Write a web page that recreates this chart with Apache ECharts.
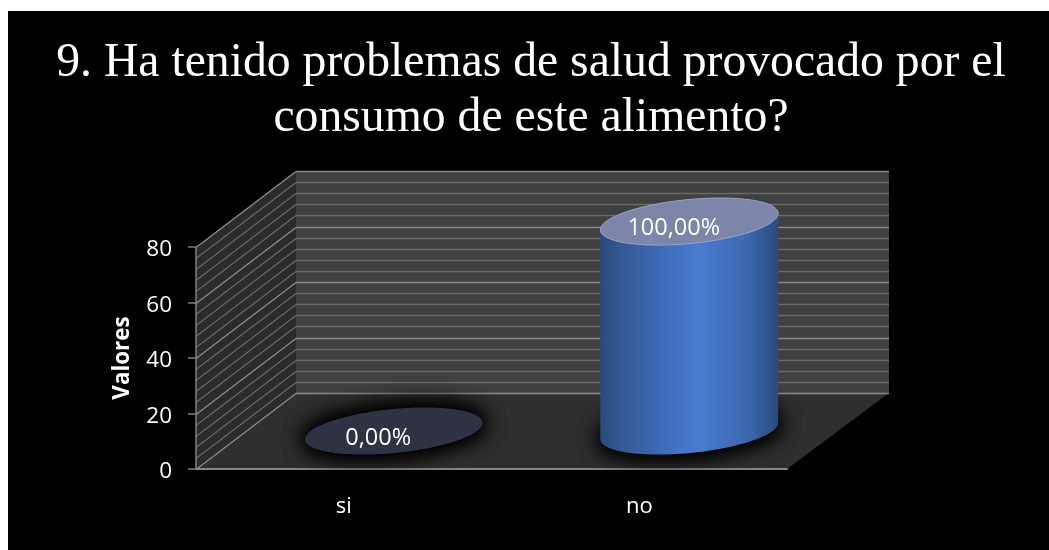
<!DOCTYPE html>
<html>
<head>
<meta charset="utf-8">
<style>html,body{margin:0;padding:0;background:#fff}#chart{width:1049px;height:550px}</style>
<script src="https://cdn.jsdelivr.net/npm/echarts@6/dist/echarts.min.js"></script>
</head>
<body>
<div id="chart"></div>
<script>
// Survey answers and how they are labelled
const categories = ['si', 'no'];
const percentValues = [0, 100];
const valueLabels = ['0,00%', '100,00%'];
const yTicks = [0, 20, 40, 60, 80];
const titleLines = ['9. Ha tenido problemas de salud provocado por el', 'consumo de este alimento?'];
const axisTitle = 'Valores';

// Oblique projection used for the pseudo-3D box
const DEPTH_X = 100;
const DEPTH_Y = -76;
const MINOR_STEP = 4;
const MAJOR_STEP = 20;
const AXIS_MAX = yTicks[yTicks.length - 1];
const PERCENT_AXIS_MAX = 106;
const LABEL_FONT = '"Open Sans", sans-serif';

const chart = echarts.init(document.getElementById('chart'), null, { renderer: 'canvas' });

// Projected circle: a conjugate pair of semi-axes, one along x and one along the depth direction
function ellipsePoints(cx, cy, halfX, depthScale) {
  const pts = [];
  for (let i = 0; i < 120; i++) {
    const t = (i / 120) * Math.PI * 2;
    pts.push([
      cx + halfX * Math.cos(t) + DEPTH_X * depthScale * Math.sin(t),
      cy + DEPTH_Y * depthScale * Math.sin(t)
    ]);
  }
  return pts;
}

function renderBox(params, api) {
  const bandWidth = api.size([1, 0])[0];
  const leftEdge = api.coord([0, 0])[0] - bandWidth / 2;
  const rightEdge = leftEdge + bandWidth * categories.length;
  const y0 = api.coord([0, 0])[1];
  const yTop = api.coord([0, AXIS_MAX])[1];
  const dx = DEPTH_X, dy = DEPTH_Y;
  const backRight = rightEdge + dx + 2;
  const children = [];

  // Side wall, back wall and floor
  children.push({ type: 'polygon', shape: { points: [[leftEdge, y0], [leftEdge + dx, y0 + dy], [leftEdge + dx, yTop + dy], [leftEdge, yTop]] }, style: { fill: '#2b2b2b' } });
  children.push({ type: 'rect', shape: { x: leftEdge + dx, y: yTop + dy, width: backRight - leftEdge - dx, height: y0 - yTop }, style: { fill: '#404040' } });
  children.push({ type: 'polygon', shape: { points: [[leftEdge, y0], [leftEdge + dx, y0 + dy], [backRight, y0 + dy], [rightEdge, y0]] }, style: { fill: '#2f2f2f' } });

  // Gridlines wrap around the side and back walls
  for (let v = 0; v <= AXIS_MAX; v += MINOR_STEP) {
    const y = Math.round(api.coord([0, v])[1]) + 0.5;
    const major = v % MAJOR_STEP === 0;
    children.push({ type: 'line', shape: { x1: leftEdge, y1: y, x2: leftEdge + dx, y2: y + dy }, style: { stroke: major ? '#8a8a8a' : '#6a6a6a', lineWidth: major ? 1.4 : 1.2 } });
    children.push({ type: 'line', shape: { x1: leftEdge + dx, y1: y + dy, x2: backRight, y2: y + dy }, style: { stroke: major ? '#8a8a8a' : '#6a6a6a', lineWidth: major ? 1.6 : 1.4 } });
  }
  return { type: 'group', children };
}

function renderCylinder(params, api) {
  const catIndex = api.value(0);
  const value = api.value(1);
  const base = api.coord([catIndex, 0]);
  const tip = api.coord([catIndex, value]);
  const span = api.size([1, 0])[0];
  const cx = base[0] + DEPTH_X / 2;
  const cy = base[1] + DEPTH_Y / 2;
  const topY = tip[1] + DEPTH_Y / 2;
  const depthScale = 0.31;
  const halfX = Math.sqrt(Math.pow(span * 0.301, 2) - Math.pow(DEPTH_X * depthScale, 2));
  const children = [];

  const baseEllipse = ellipsePoints(cx, cy, halfX, depthScale);
  const label = valueLabels[params.dataIndex];

  // Soft contact shadow on the floor, layered so it stays dark near the disc
  for (let layer = 0; layer < 3; layer++) {
    children.push({
      type: 'polygon',
      shape: { points: baseEllipse },
      style: { fill: '#000', shadowBlur: 22, shadowColor: '#000' }
    });
  }

  if (value === 0) {
    // A zero-height bar leaves only its disc on the floor
    children.push({ type: 'polygon', shape: { points: baseEllipse }, style: { fill: '#2e3344' } });
  } else {
    const topEllipse = ellipsePoints(cx, topY, halfX, depthScale);
    const xs = baseEllipse.map(p => p[0]);
    const iMin = xs.indexOf(Math.min.apply(null, xs));
    const iMax = xs.indexOf(Math.max.apply(null, xs));
    const n = baseEllipse.length;
    // Body outline: lower half of the base, then across the top disc
    const body = [];
    for (let i = iMax; ; i = (i - 1 + n) % n) {
      body.push(baseEllipse[i]);
      if (i === iMin) break;
    }
    for (let i = iMin; ; i = (i - 1 + n) % n) {
      body.push(topEllipse[i]);
      if (i === iMax) break;
    }
    const grad = new echarts.graphic.LinearGradient(0, 0, 1, 0, [
      { offset: 0, color: '#2b4a7c' },
      { offset: 0.12, color: '#345a96' },
      { offset: 0.35, color: '#3f6cb8' },
      { offset: 0.55, color: '#4a7bd2' },
      { offset: 0.82, color: '#3c69b0' },
      { offset: 1, color: '#2b4a7c' }
    ]);
    children.push({ type: 'polygon', shape: { points: body }, style: { fill: grad } });
    children.push({ type: 'polygon', shape: { points: topEllipse }, style: { fill: '#7c86aa', stroke: '#98a4c4', lineWidth: 1 } });
  }

  children.push({
    type: 'text',
    style: {
      x: cx - 15.5,
      y: topY + 7,
      text: label,
      fill: '#fff',
      font: '23.5px ' + LABEL_FONT,
      align: 'center',
      verticalAlign: 'middle'
    }
  });
  return { type: 'group', children };
}

chart.setOption({
  animation: false,
  backgroundColor: '#ffffff',
  graphic: {
    elements: [
      { type: 'rect', z: -100, silent: true, shape: { x: 8, y: 11, width: 1041, height: 539 }, style: { fill: '#000' } }
    ]
  },
  title: {
    text: titleLines.join('\n'),
    left: 526,
    top: 31,
    textAlign: 'center',
    textStyle: {
      color: '#fff',
      fontFamily: '"Liberation Serif", serif',
      fontWeight: 'normal',
      fontSize: 47.7,
      lineHeight: 55
    }
  },
  grid: { left: 196, right: 262, top: 247, bottom: 81, containLabel: false },
  xAxis: {
    type: 'category',
    data: categories,
    z: 5,
    axisLine: { lineStyle: { color: '#868686', width: 2 } },
    axisTick: { show: false },
    axisLabel: { color: '#fff', fontFamily: LABEL_FONT, fontSize: 22, margin: 27 }
  },
  yAxis: [
    {
      type: 'value',
      min: yTicks[0],
      max: AXIS_MAX,
      interval: yTicks[1] - yTicks[0],
      z: 5,
      name: axisTitle,
      nameLocation: 'middle',
      nameGap: 62,
      nameRotate: 90,
      nameTextStyle: { color: '#fff', fontFamily: LABEL_FONT, fontWeight: 'bold', fontSize: 22.4 },
      axisLine: { show: true, lineStyle: { color: '#808080', width: 1.5 } },
      axisTick: { show: true, length: 8, lineStyle: { color: '#808080', width: 1.5 } },
      axisLabel: { color: '#fff', fontFamily: LABEL_FONT, fontSize: 22.5, margin: 24, verticalAlign: 'top', lineHeight: 6 },
      splitLine: { show: false }
    },
    {
      // Percentage scale for the cylinders, not displayed
      type: 'value',
      min: 0,
      max: PERCENT_AXIS_MAX,
      show: false,
      splitLine: { show: false }
    }
  ],
  series: [
    {
      type: 'custom',
      z: 1,
      silent: true,
      clip: false,
      xAxisIndex: 0,
      yAxisIndex: 0,
      renderItem: renderBox,
      data: [[0, 0]]
    },
    {
      type: 'custom',
      z: 6,
      silent: true,
      clip: false,
      xAxisIndex: 0,
      yAxisIndex: 1,
      renderItem: renderCylinder,
      encode: { x: 0, y: 1 },
      data: percentValues.map((v, i) => [i, v])
    }
  ]
});
</script>
</body>
</html>
